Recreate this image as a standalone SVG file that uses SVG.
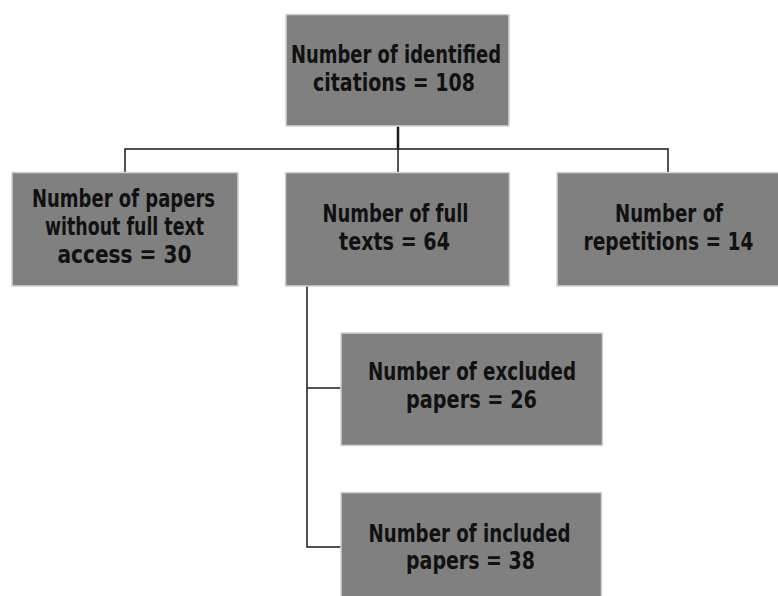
<svg xmlns="http://www.w3.org/2000/svg" width="778" height="596" viewBox="0 0 778 596">
<style>
.box{fill:#808080;stroke:#d4d4d4;stroke-width:1.5}
.t{font-family:"Liberation Sans Narrow","DejaVu Sans Condensed","Arial Narrow","Liberation Sans",sans-serif;font-weight:bold;font-size:25px;fill:#111;text-anchor:middle}
.c{fill:none;stroke:#1a1a1a;stroke-width:1.5}
</style>
<rect width="778" height="596" fill="#fff"/>
<g id="connectors">
<line class="c" x1="398" y1="126" x2="398" y2="149" style="stroke-width:2.5"/>
<polyline class="c" points="125,172 125,149 668,149 668,172"/>
<line class="c" x1="398" y1="149" x2="398" y2="172"/>
<polyline class="c" points="307,286 307,547 341,547"/>
<line class="c" x1="307" y1="388" x2="341" y2="388"/>
</g>
<g id="n-identified">
<rect class="box" x="286" y="14.5" width="223" height="111.5"/>
<text class="t" x="396" y="63" textLength="210" lengthAdjust="spacingAndGlyphs">Number of identified</text>
<text class="t" x="394" y="90.5" textLength="162" lengthAdjust="spacingAndGlyphs">citations = 108</text>
</g>
<g id="n-nofull">
<rect class="box" x="12" y="172.5" width="226" height="113.5"/>
<text class="t" x="123.5" y="206.5" textLength="183" lengthAdjust="spacingAndGlyphs">Number of papers</text>
<text class="t" x="124.5" y="235" textLength="159" lengthAdjust="spacingAndGlyphs">without full text</text>
<text class="t" x="124.5" y="262.5" textLength="134" lengthAdjust="spacingAndGlyphs">access = 30</text>
</g>
<g id="n-fulltexts">
<rect class="box" x="285.5" y="172.5" width="224" height="113.5"/>
<text class="t" x="395.5" y="221.5" textLength="146" lengthAdjust="spacingAndGlyphs">Number of full</text>
<text class="t" x="394.5" y="250" textLength="111" lengthAdjust="spacingAndGlyphs">texts = 64</text>
</g>
<g id="n-repetitions">
<rect class="box" x="557" y="172.5" width="224" height="113.5"/>
<text class="t" x="669" y="221.5" textLength="108" lengthAdjust="spacingAndGlyphs">Number of</text>
<text class="t" x="668.5" y="249.5" textLength="170" lengthAdjust="spacingAndGlyphs">repetitions = 14</text>
</g>
<g id="n-excluded">
<rect class="box" x="341" y="333" width="261.5" height="112.5"/>
<text class="t" x="472" y="380" textLength="208" lengthAdjust="spacingAndGlyphs">Number of excluded</text>
<text class="t" x="471.5" y="408" textLength="131" lengthAdjust="spacingAndGlyphs">papers = 26</text>
</g>
<g id="n-included">
<rect class="box" x="341" y="492.5" width="260.5" height="113"/>
<text class="t" x="469.5" y="541.5" textLength="202" lengthAdjust="spacingAndGlyphs">Number of included</text>
<text class="t" x="470.5" y="569" textLength="129" lengthAdjust="spacingAndGlyphs">papers = 38</text>
</g>
</svg>
